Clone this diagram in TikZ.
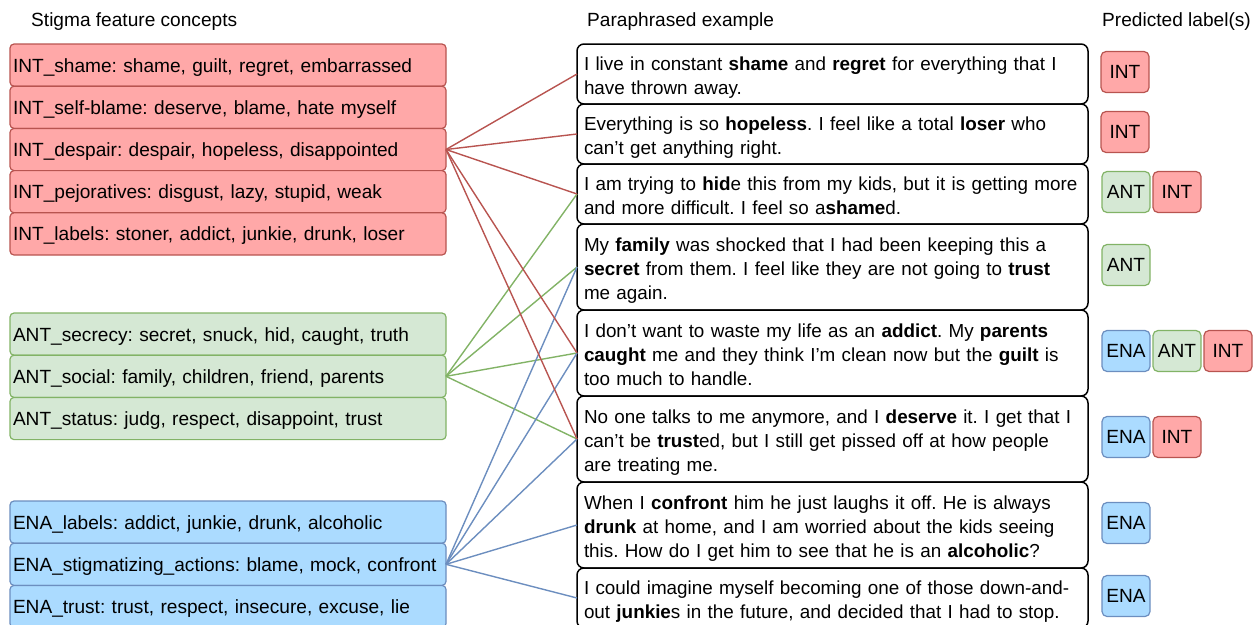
\documentclass[tikz,border=0pt]{standalone}
\usepackage{fontspec}
\setmainfont{Liberation Sans}
\usepackage{xcolor}
\usepackage{tikz}
\usetikzlibrary{positioning}
\frenchspacing
\definecolor{intfill}{HTML}{FFA8A8}
\definecolor{intline}{HTML}{B85450}
\definecolor{antfill}{HTML}{D5E8D4}
\definecolor{antline}{HTML}{82B366}
\definecolor{enafill}{HTML}{ABDBFF}
\definecolor{enaline}{HTML}{6C8EBF}
\newcommand{\txtfont}{\fontsize{19.1}{24}\selectfont}
\newcommand{\exfont}{\fontsize{18.85}{24}\selectfont}
\tikzstyle{concept} = [rectangle, draw, rounded corners=4pt, line width=1.2pt, outer sep=0pt, text width=430pt, inner xsep=3pt, inner ysep=0pt, minimum height=42.2pt, text height=18pt, text depth=4pt, align=left, font=\txtfont]
\tikzstyle{example} = [rectangle, draw=black, rounded corners=7pt, line width=1.5pt, outer sep=0pt, text width=497pt, inner xsep=7pt, inner ysep=0pt, text height=20pt, align=left, font=\exfont]
\tikzstyle{twoline} = [minimum height=60pt, text depth=28pt]
\tikzstyle{threeline} = [minimum height=86pt, text depth=52pt]
\tikzstyle{tag} = [rectangle, draw, rounded corners=5pt, line width=1.2pt, outer sep=0pt, minimum width=48pt, minimum height=41pt, inner sep=0pt, font=\txtfont]
\tikzstyle{header} = [inner sep=0pt, anchor=west, font=\txtfont]
\tikzstyle{link} = [line width=1.4pt]

\begin{document}
\begin{tikzpicture}[x=1pt, y=-1pt, node distance=0pt]
\useasboundingbox (0,0) rectangle (1255,624);

\node[header] (hconcepts) at (31,22) {Stigma feature concepts};
\node[header] (hexamples) at (587,22) {Paraphrased example};
\node[header] (hlabels) at (1102,22) {Predicted label(s)};

% internalized stigma
\node[concept, fill=intfill, draw=intline, anchor=north west] (intshame) at (10,44) {INT\_shame: shame, guilt, regret, embarrassed};
\node[concept, fill=intfill, draw=intline, below=of intshame] (intselfblame) {INT\_self-blame: deserve, blame, hate myself};
\node[concept, fill=intfill, draw=intline, below=of intselfblame] (intdespair) {INT\_despair: despair, hopeless, disappointed};
\node[concept, fill=intfill, draw=intline, below=of intdespair] (intpejor) {INT\_pejoratives: disgust, lazy, stupid, weak};
\node[concept, fill=intfill, draw=intline, below=of intpejor] (intlabels) {INT\_labels: stoner, addict, junkie, drunk, loser};

% anticipated stigma
\node[concept, fill=antfill, draw=antline, anchor=north west] (antsecrecy) at (10,313) {ANT\_secrecy: secret, snuck, hid, caught, truth};
\node[concept, fill=antfill, draw=antline, below=of antsecrecy] (antsocial) {ANT\_social: family, children, friend, parents};
\node[concept, fill=antfill, draw=antline, below=of antsocial] (antstatus) {ANT\_status: judg, respect, disappoint, trust};

% enacted stigma
\node[concept, fill=enafill, draw=enaline, anchor=north west] (enalabels) at (10,501) {ENA\_labels: addict, junkie, drunk, alcoholic};
\node[concept, fill=enafill, draw=enaline, below=of enalabels] (enastigma) {ENA\_stigmatizing\_actions: blame, mock, confront};
\node[concept, fill=enafill, draw=enaline, below=of enastigma] (enatrust) {ENA\_trust: trust, respect, insecure, excuse, lie};

% examples
\node[example, twoline, anchor=north west] (ex1) at (577,44) {I live in constant \textbf{shame} and \textbf{regret} for everything that I\\have thrown away.};
\node[example, twoline, below=of ex1] (ex2) {Everything is so \textbf{hopeless}. I feel like a total \textbf{loser} who\\can't get anything right.};
\node[example, twoline, below=of ex2] (ex3) {I am trying to \textbf{hid}e this from my kids, but it is getting more\\and more difficult. I feel so a\textbf{shame}d.};
\node[example, threeline, below=of ex3] (ex4) {My \textbf{family} was shocked that I had been keeping this a\\\textbf{secret} from them. I feel like they are not going to \textbf{trust}\\me again.};
\node[example, threeline, below=of ex4] (ex5) {I don't want to waste my life as an \textbf{addict}. My \textbf{parents}\\\textbf{caught} me and they think I'm clean now but the \textbf{guilt} is\\too much to handle.};
\node[example, threeline, below=of ex5] (ex6) {No one talks to me anymore, and I \textbf{deserve} it. I get that I\\can't be \textbf{trust}ed, but I still get pissed off at how people\\are treating me.};
\node[example, threeline, below=of ex6] (ex7) {When I \textbf{confront} him he just laughs it off. He is always\\\textbf{drunk} at home, and I am worried about the kids seeing\\this. How do I get him to see that he is an \textbf{alcoholic}?};
\node[example, twoline, below=of ex7] (ex8) {I could imagine myself becoming one of those down-and-\\out \textbf{junkie}s in the future, and decided that I had to stop.};

% predicted labels
\node[tag, fill=intfill, draw=intline, right=13pt of ex1, yshift=2pt] (lab1a) {INT};
\node[tag, fill=intfill, draw=intline, right=13pt of ex2, yshift=2pt] (lab2a) {INT};
\node[tag, fill=antfill, draw=antline, right=14pt of ex3, yshift=2pt] (lab3a) {ANT};
\node[tag, fill=intfill, draw=intline, right=3pt of lab3a] (lab3b) {INT};
\node[tag, fill=antfill, draw=antline, right=14pt of ex4, yshift=2pt] (lab4a) {ANT};
\node[tag, fill=enafill, draw=enaline, right=14pt of ex5, yshift=2pt] (lab5a) {ENA};
\node[tag, fill=antfill, draw=antline, right=3pt of lab5a] (lab5b) {ANT};
\node[tag, fill=intfill, draw=intline, right=3pt of lab5b] (lab5c) {INT};
\node[tag, fill=enafill, draw=enaline, right=14pt of ex6, yshift=2pt] (lab6a) {ENA};
\node[tag, fill=intfill, draw=intline, right=3pt of lab6a] (lab6b) {INT};
\node[tag, fill=enafill, draw=enaline, right=14pt of ex7, yshift=2pt] (lab7a) {ENA};
\node[tag, fill=enafill, draw=enaline, right=14pt of ex8, yshift=2pt] (lab8a) {ENA};

    \draw[link, antline] (antsocial.east) -- (ex3.west);
    \draw[link, antline] (antsocial.east) -- (ex4.west);
    \draw[link, antline] (antsocial.east) -- (ex5.west);
    \draw[link, antline] (antsocial.east) -- (ex6.west);
    \draw[link, enaline] (enastigma.east) -- (ex4.west);
    \draw[link, enaline] (enastigma.east) -- (ex5.west);
    \draw[link, enaline] (enastigma.east) -- (ex6.west);
    \draw[link, enaline] (enastigma.east) -- (ex7.west);
    \draw[link, enaline] (enastigma.east) -- (ex8.west);
    \draw[link, intline] (intdespair.east) -- (ex1.west);
    \draw[link, intline] (intdespair.east) -- (ex2.west);
    \draw[link, intline] (intdespair.east) -- (ex3.west);
    \draw[link, intline] (intdespair.east) -- (ex5.west);
    \draw[link, intline] (intdespair.east) -- (ex6.west);
\end{tikzpicture}
\end{document}
